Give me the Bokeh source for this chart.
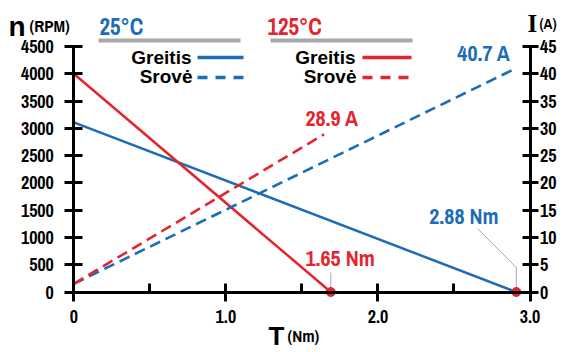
from bokeh.plotting import figure
from bokeh.models import Range1d, LinearAxis, FixedTicker
from bokeh.core.properties import value
from bokeh.embed import file_html
from bokeh.resources import INLINE

# ---- data ----
torque_25 = [0.0, 2.91]
speed_25 = [3110, 0]
torque_125 = [0.0, 1.69]
speed_125 = [4000, 0]
cur_torque_25 = [0.0, 2.90]
current_25 = [1.5, 40.9]
cur_torque_125 = [0.0, 1.645]
current_125 = [1.5, 28.9]
stall_labels = ["2.88 Nm", "1.65 Nm"]
current_labels = ["40.7 A", "28.9 A"]
speed_ticks = list(range(0, 4501, 500))
current_ticks = list(range(0, 46, 5))
torque_ticks = [0, 1, 2, 3]
torque_tick_labels = {0: "0", 1: "1.0", 2: "2.0", 3: "3.0"}
torque_minor = [0.5, 1.5, 2.5]

BLUE = "#1c6cb6"
RED = "#e2252e"
GRAY = "#a8a8a8"
NARROW = "Archivo Narrow"
SANS = "Liberation Sans"

W, H = 566, 352
X0, X3 = 73.3, 529.5      # pixel of T=0 and T=3
Y0, Y45 = 291.5, 46.0     # pixel of n=0 and n=4500
TXT_SHIFT = 7.5           # renderer places alphabetic baseline lower


def px2x(px):
    return (px - X0) / (X3 - X0) * 3.0


def py2y(py):
    return (Y0 - py) / (Y0 - Y45) * 4500


p = figure(width=W, height=H, output_backend="svg", toolbar_location=None,
           x_range=Range1d(px2x(0), px2x(W)), y_range=Range1d(py2y(H), py2y(0)),
           min_border=0, x_axis_type=None, y_axis_type=None)
p.grid.visible = False
p.outline_line_color = None
p.background_fill_color = "white"
p.extra_y_ranges = {"cur": Range1d(py2y(H) / 100, py2y(0) / 100)}


def style(ax, tin, tout, stand, size="18px"):
    ax.axis_line_width = 3
    ax.axis_line_color = "black"
    ax.major_tick_line_width = 3
    ax.major_tick_in = tin
    ax.major_tick_out = tout
    ax.major_label_standoff = stand
    ax.major_label_text_font = NARROW
    ax.major_label_text_font_style = "bold"
    ax.major_label_text_font_size = size
    ax.major_label_text_color = "black"


left = LinearAxis(ticker=FixedTicker(ticks=speed_ticks, minor_ticks=[]), bounds=(0, 4500), fixed_location=0)
style(left, 9, 9, 11)
left.minor_tick_line_color = None
p.add_layout(left, "left")

right = LinearAxis(y_range_name="cur", ticker=FixedTicker(ticks=current_ticks, minor_ticks=[]),
                   bounds=(0, 45), fixed_location=3.0)
style(right, 8, 8, 2)
right.minor_tick_line_color = None
p.add_layout(right, "right")

bottom = LinearAxis(ticker=FixedTicker(ticks=torque_ticks, minor_ticks=torque_minor), bounds=(0, 3),
                    fixed_location=0)
style(bottom, 9, 9, 9)
bottom.major_label_overrides = torque_tick_labels
bottom.minor_tick_in = 9
bottom.minor_tick_out = 0
bottom.minor_tick_line_width = 3
bottom.minor_tick_line_color = "black"
p.add_layout(bottom, "below")

# ---- curves ----
p.line(torque_25, speed_25, line_color=BLUE, line_width=2.5)
p.line(torque_125, speed_125, line_color=RED, line_width=2.5)
p.line(cur_torque_25, current_25, y_range_name="cur", line_color=BLUE, line_width=2.6, line_dash="11 6")
p.line(cur_torque_125, current_125, y_range_name="cur", line_color=RED, line_width=2.6, line_dash="11 6")

# leader lines
p.line([torque_25[1], torque_25[1], px2x(477)], [0, py2y(267), py2y(228)], line_color=GRAY, line_width=1)
p.line([torque_125[1], torque_125[1]], [py2y(287), py2y(272)], line_color=GRAY, line_width=1)

p.scatter([torque_25[1], torque_125[1]], [speed_25[1], speed_125[1]], size=9, color=RED)


def txt(px, py, s, color, size, font=NARROW, align="left"):
    p.text([px2x(px)], [py2y(py - TXT_SHIFT)], text=[s], text_color=color, text_align=align,
           text_baseline="alphabetic", text_font=value(font), text_font_style="bold",
           text_font_size=size)


# value labels
txt(498, 223, stall_labels[0], BLUE, "22px", align="right")
txt(305, 265, stall_labels[1], RED, "22px")
txt(510, 60, current_labels[0], BLUE, "22px", align="right")
txt(305, 125, current_labels[1], RED, "22px")

# ---- legend blocks ----
for col, title, tx, gx0, gx1, lx, sx0, sx1 in [
        (BLUE, "25°C", 99, 98, 240, 191, 197, 243),
        (RED, "125°C", 267, 270, 412, 355, 362, 411)]:
    txt(tx, 33, title, col, "23px")
    p.line([px2x(gx0), px2x(gx1)], [py2y(40), py2y(40)], line_color=GRAY, line_width=4)
    txt(lx, 64, "Greitis", "black", "19px", SANS, "right")
    txt(lx + 1, 83, "Srovė", "black", "19px", SANS, "right")
    p.line([px2x(sx0), px2x(sx1)], [py2y(57), py2y(57)], line_color=col, line_width=3.5)
    p.line([px2x(sx0), px2x(sx1)], [py2y(77), py2y(77)], line_color=col, line_width=3.5, line_dash="10 8")

# ---- axis titles ----
txt(8, 33, "n", "black", "28px", SANS)
txt(29, 32, "(RPM)", "black", "17px")
txt(527, 30, "I", "black", "25px", "Liberation Serif")
txt(539, 30, "(A)", "black", "15px")
txt(268, 343, "T", "black", "26px", SANS)
txt(287, 342, "(Nm)", "black", "17px")

open("out.html", "w").write(file_html(p, INLINE))
